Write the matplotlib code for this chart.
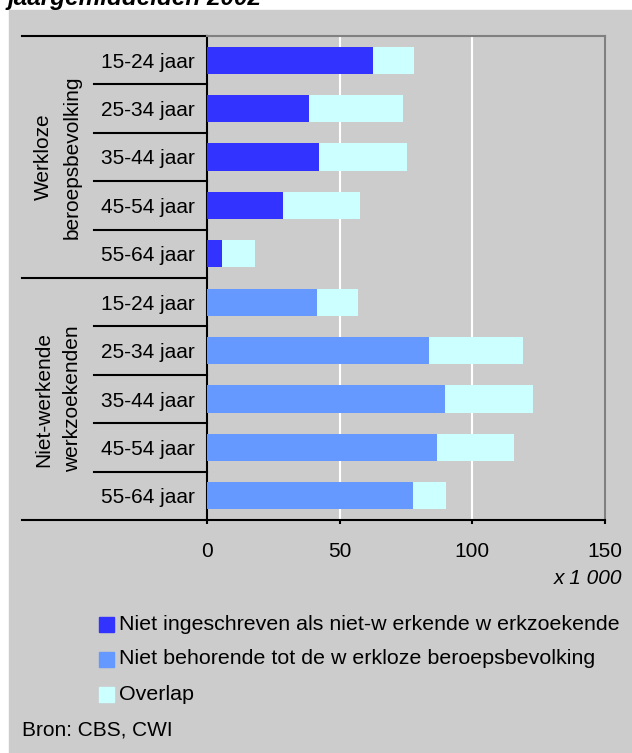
import numpy as np
import matplotlib.pyplot as plt
from matplotlib import transforms
from matplotlib.patches import Rectangle

plt.rcParams['font.family'] = ['Liberation Sans', 'DejaVu Sans']

# waarden x 1 000
leeftijden = ['15-24 jaar', '25-34 jaar', '35-44 jaar', '45-54 jaar', '55-64 jaar']
niet_ingeschreven = [62.6, 38.5, 42.3, 28.7, 5.7]
niet_behorend = [41.5, 83.8, 89.8, 86.8, 77.7]
overlap = [15.5, 35.4, 33.2, 29.0, 12.4]
groepen = ['Werkloze\nberoepsbevolking', 'Niet-werkende\nwerkzoekenden']
legenda = ['Niet ingeschreven als niet-w erkende w erkzoekende',
           'Niet behorende tot de w erkloze beroepsbevolking',
           'Overlap']
kleuren = ['#3333ff', '#6699ff', '#ccffff']

W, H = 632, 753
fig = plt.figure(figsize=(W / 100, H / 100), dpi=100)
fig.patches.append(Rectangle((9 / W, 0), 1, 1 - 10 / H, transform=fig.transFigure,
                             color='#cccccc', zorder=-10))

ax = fig.add_axes([207 / W, 1 - 520 / H, 398 / W, 484 / H])
ax.set_facecolor('#cccccc')

y = np.arange(10)
eerste = niet_ingeschreven + niet_behorend
ax.barh(y, eerste, height=0.56, color=[kleuren[0]] * 5 + [kleuren[1]] * 5, zorder=3)
ax.barh(y, overlap + overlap, left=eerste, height=0.56, color=kleuren[2], zorder=3)

ax.set_xlim(0, 150)
ax.set_ylim(9.5, -0.5)
ax.set_xticks([0, 50, 100, 150])
ax.set_yticks(y)
ax.set_yticklabels(leeftijden * 2)
ax.xaxis.grid(True, color='white', lw=1.5, zorder=1)
ax.set_axisbelow(True)
ax.tick_params(axis='y', length=0, pad=9, labelsize=15)
ax.tick_params(axis='x', length=3, width=1.5, direction='out', pad=13, labelsize=15)

for s in ['top', 'right']:
    ax.spines[s].set_color('#808080')
    ax.spines[s].set_linewidth(1.5)
for s in ['left', 'bottom']:
    ax.spines[s].set_color('black')
    ax.spines[s].set_linewidth(1.5)

trans = transforms.blended_transform_factory(ax.transAxes, ax.transData)
for b in [0.5, 1.5, 2.5, 3.5, 5.5, 6.5, 7.5, 8.5]:
    ax.plot([-113 / 398, 0], [b, b], transform=trans, color='black', lw=1.5, clip_on=False)
for b in [-0.5, 4.5, 9.5]:
    ax.plot([-185 / 398, 0], [b, b], transform=trans, color='black', lw=1.5, clip_on=False)

for i, g in enumerate(groepen):
    ax.text(-149 / 398, 2 + 5 * i, g, transform=trans, rotation=90, ha='center', va='center',
            fontsize=15, linespacing=1.65, multialignment='center')

fig.text(622 / W, 1 - 578 / H, 'x 1 000', ha='right', va='center', fontsize=15, fontstyle='italic')

for i, (lab, kl) in enumerate(zip(legenda, kleuren)):
    yc = 1 - (624 + 35 * i) / H
    fig.patches.append(Rectangle((99 / W, yc - 7.5 / H), 15 / W, 15 / H,
                                 transform=fig.transFigure, color=kl))
    fig.text(119 / W, yc, lab, ha='left', va='center', fontsize=15.4)

fig.text(22 / W, 1 - 730 / H, 'Bron: CBS, CWI', ha='left', va='center', fontsize=15)
fig.text(8 / W, 1 - 5 / H, 'jaargemiddelden 2002', ha='left', va='baseline',
         fontsize=17.5, fontweight='bold', fontstyle='italic')

fig.savefig('out.png', dpi=100)
